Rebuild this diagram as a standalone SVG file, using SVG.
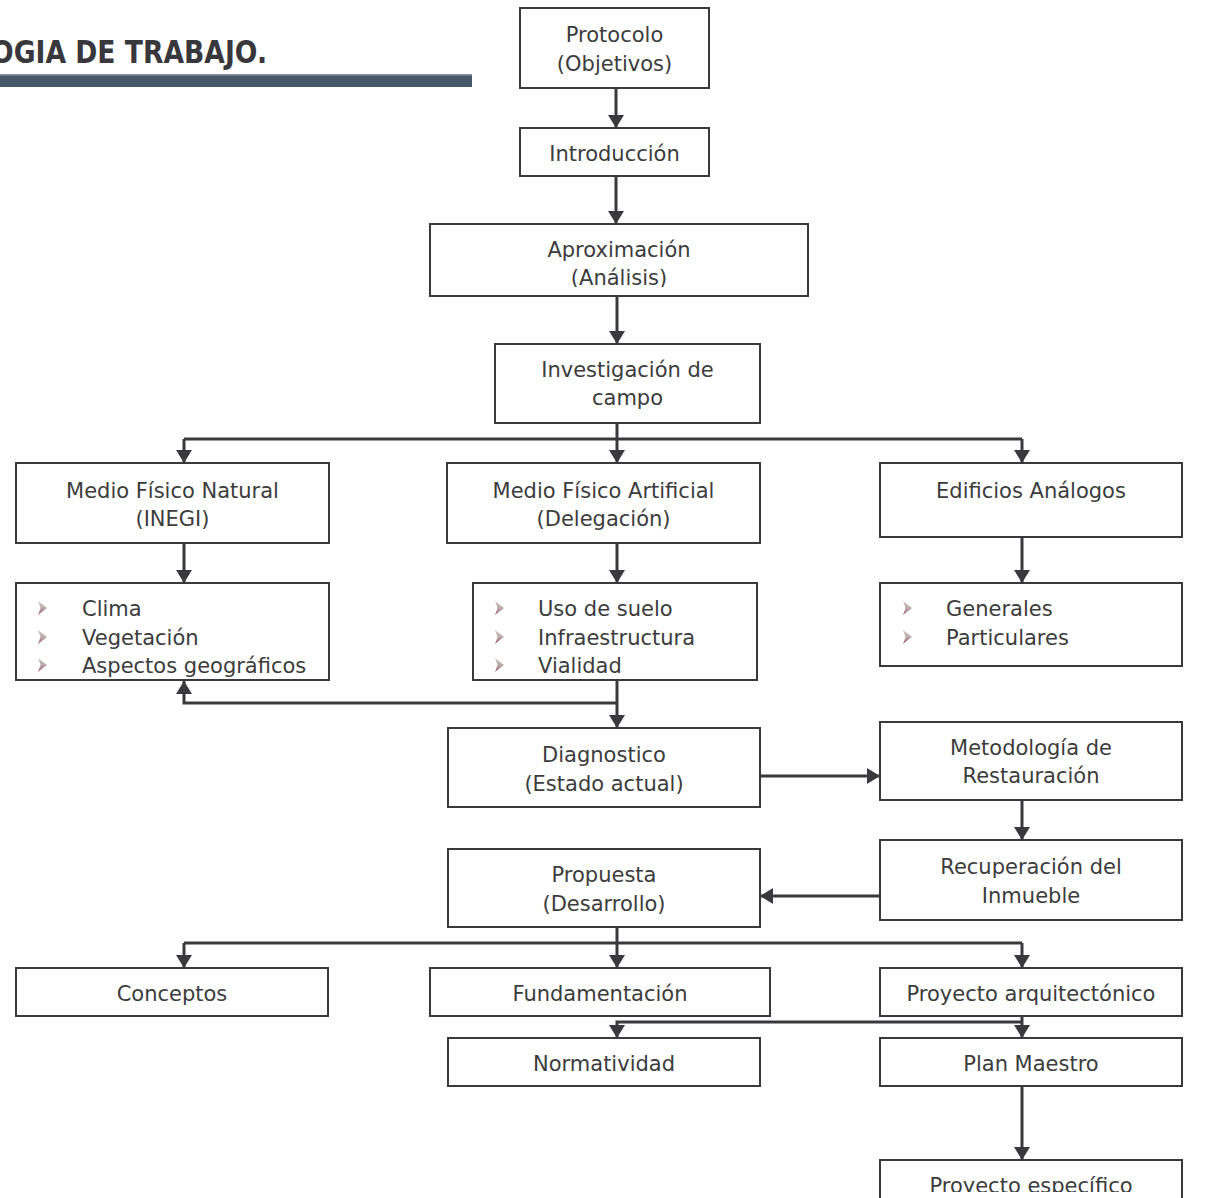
<svg xmlns="http://www.w3.org/2000/svg" width="1214" height="1198" viewBox="0 0 1214 1198">
<defs>
<style>
.box{fill:#fff;stroke:#3a3a3e;stroke-width:2}
.t{font-family:"DejaVu Sans","Liberation Sans",sans-serif;font-size:21px;fill:#3c3c3c}
.c{text-anchor:middle}
.ln{fill:none;stroke:#3a3a3e;stroke-width:3}
.ar{fill:none;stroke:#3a3a3e;stroke-width:3;marker-end:url(#ah)}
.bul{fill:url(#bg)}
</style>
<marker id="ah" markerUnits="userSpaceOnUse" markerWidth="14" markerHeight="16" refX="13" refY="8" orient="auto">
<path d="M0,0 L13,8 L0,16 z" fill="#3a3a3e"/>
</marker>
<linearGradient id="bg" x1="0" y1="0" x2="0" y2="1">
<stop offset="0" stop-color="#d4c4c0"/>
<stop offset="0.5" stop-color="#b8aca8"/>
<stop offset="1" stop-color="#a85c6c"/>
</linearGradient>
<clipPath id="clipA"><rect x="430" y="224" width="378" height="63"/></clipPath>
<clipPath id="clipP"><rect x="880" y="1160" width="302" height="32"/></clipPath>
</defs>
<rect width="1214" height="1198" fill="#fff"/>

<g id="title">
<text x="-9" y="63" font-family="DejaVu Sans,Liberation Sans,sans-serif" font-weight="bold" font-size="32" fill="#38383c" textLength="276" lengthAdjust="spacingAndGlyphs">OGIA DE TRABAJO.</text>
<rect x="0" y="74" width="472" height="13" fill="#475968"/>
<rect x="0" y="74" width="472" height="1.5" fill="#8a98a4"/>
</g>

<g id="connectors">
<path class="ar" d="M616,88 V128"/>
<path class="ar" d="M616,176 V224"/>
<path class="ar" d="M617,296 V344"/>
<path class="ar" d="M617,423 V463"/>
<path class="ln" d="M184,439 H1022"/>
<path class="ar" d="M184,439 V463"/>
<path class="ar" d="M1022,439 V463"/>
<path class="ar" d="M184,543 V583"/>
<path class="ar" d="M617,543 V583"/>
<path class="ar" d="M1022,537 V583"/>
<path class="ar" d="M617,680 V728"/>
<path class="ar" d="M617,703 H184 V681"/>
<path class="ar" d="M760,776 H880"/>
<path class="ar" d="M1022,800 V840"/>
<path class="ar" d="M880,896 H760"/>
<path class="ar" d="M617,927 V968"/>
<path class="ln" d="M184,943 H1022"/>
<path class="ar" d="M184,943 V968"/>
<path class="ar" d="M1022,943 V968"/>
<path class="ar" d="M1022,1016 V1038"/>
<path class="ar" d="M1022,1022 H617 V1038"/>
<path class="ar" d="M1022,1086 V1160"/>
</g>

<g id="protocolo">
<rect class="box" x="520" y="8" width="189" height="80"/>
<text class="t c" x="614.5" y="42">Protocolo</text>
<text class="t c" x="614.5" y="71">(Objetivos)</text>
</g>
<g id="introduccion">
<rect class="box" x="520" y="128" width="189" height="48"/>
<text class="t c" x="614.5" y="161">Introducción</text>
</g>
<g id="aproximacion">
<rect class="box" x="430" y="224" width="378" height="72"/>
<text class="t c" x="619" y="257">Aproximación</text>
<text class="t c" x="619" y="285" clip-path="url(#clipA)">(Análisis)</text>
</g>
<g id="investigacion">
<rect class="box" x="495" y="344" width="265" height="79"/>
<text class="t c" x="627.5" y="377">Investigación de</text>
<text class="t c" x="627.5" y="405">campo</text>
</g>
<g id="medio-natural">
<rect class="box" x="16" y="463" width="313" height="80"/>
<text class="t c" x="172.5" y="498">Medio Físico Natural</text>
<text class="t c" x="172.5" y="526">(INEGI)</text>
</g>
<g id="medio-artificial">
<rect class="box" x="447" y="463" width="313" height="80"/>
<text class="t c" x="603.5" y="498">Medio Físico Artificial</text>
<text class="t c" x="603.5" y="526">(Delegación)</text>
</g>
<g id="edificios">
<rect class="box" x="880" y="463" width="302" height="74"/>
<text class="t c" x="1031" y="498">Edificios Análogos</text>
</g>
<g id="lista-natural">
<rect class="box" x="16" y="583" width="313" height="97"/>
<path class="bul" d="M38,601 L47,608 L38,615 L40.5,608 z"/>
<path class="bul" d="M38,630 L47,637 L38,644 L40.5,637 z"/>
<path class="bul" d="M38,658 L47,665 L38,672 L40.5,665 z"/>
<text class="t" x="82" y="616">Clima</text>
<text class="t" x="82" y="645">Vegetación</text>
<text class="t" x="82" y="673">Aspectos geográficos</text>
</g>
<g id="lista-artificial">
<rect class="box" x="473" y="583" width="284" height="97"/>
<path class="bul" d="M495,601 L504,608 L495,615 L497.5,608 z"/>
<path class="bul" d="M495,630 L504,637 L495,644 L497.5,637 z"/>
<path class="bul" d="M495,658 L504,665 L495,672 L497.5,665 z"/>
<text class="t" x="538" y="616">Uso de suelo</text>
<text class="t" x="538" y="645">Infraestructura</text>
<text class="t" x="538" y="673">Vialidad</text>
</g>
<g id="lista-edificios">
<rect class="box" x="880" y="583" width="302" height="83"/>
<path class="bul" d="M903,601 L912,608 L903,615 L905.5,608 z"/>
<path class="bul" d="M903,630 L912,637 L903,644 L905.5,637 z"/>
<text class="t" x="946" y="616">Generales</text>
<text class="t" x="946" y="645">Particulares</text>
</g>
<g id="diagnostico">
<rect class="box" x="448" y="728" width="312" height="79"/>
<text class="t c" x="604" y="762">Diagnostico</text>
<text class="t c" x="604" y="791">(Estado actual)</text>
</g>
<g id="metodologia">
<rect class="box" x="880" y="722" width="302" height="78"/>
<text class="t c" x="1031" y="755">Metodología de</text>
<text class="t c" x="1031" y="783">Restauración</text>
</g>
<g id="recuperacion">
<rect class="box" x="880" y="840" width="302" height="80"/>
<text class="t c" x="1031" y="874">Recuperación del</text>
<text class="t c" x="1031" y="903">Inmueble</text>
</g>
<g id="propuesta">
<rect class="box" x="448" y="849" width="312" height="78"/>
<text class="t c" x="604" y="882">Propuesta</text>
<text class="t c" x="604" y="911">(Desarrollo)</text>
</g>
<g id="conceptos">
<rect class="box" x="16" y="968" width="312" height="48"/>
<text class="t c" x="172" y="1001">Conceptos</text>
</g>
<g id="fundamentacion">
<rect class="box" x="430" y="968" width="340" height="48"/>
<text class="t c" x="600" y="1001">Fundamentación</text>
</g>
<g id="proyecto-arq">
<rect class="box" x="880" y="968" width="302" height="48"/>
<text class="t c" x="1031" y="1001">Proyecto arquitectónico</text>
</g>
<g id="normatividad">
<rect class="box" x="448" y="1038" width="312" height="48"/>
<text class="t c" x="604" y="1071">Normatividad</text>
</g>
<g id="plan-maestro">
<rect class="box" x="880" y="1038" width="302" height="48"/>
<text class="t c" x="1031" y="1071">Plan Maestro</text>
</g>
<g id="proyecto-especifico">
<rect class="box" x="880" y="1160" width="302" height="60"/>
<text class="t c" x="1031" y="1193" clip-path="url(#clipP)">Proyecto específico</text>
</g>
</svg>
